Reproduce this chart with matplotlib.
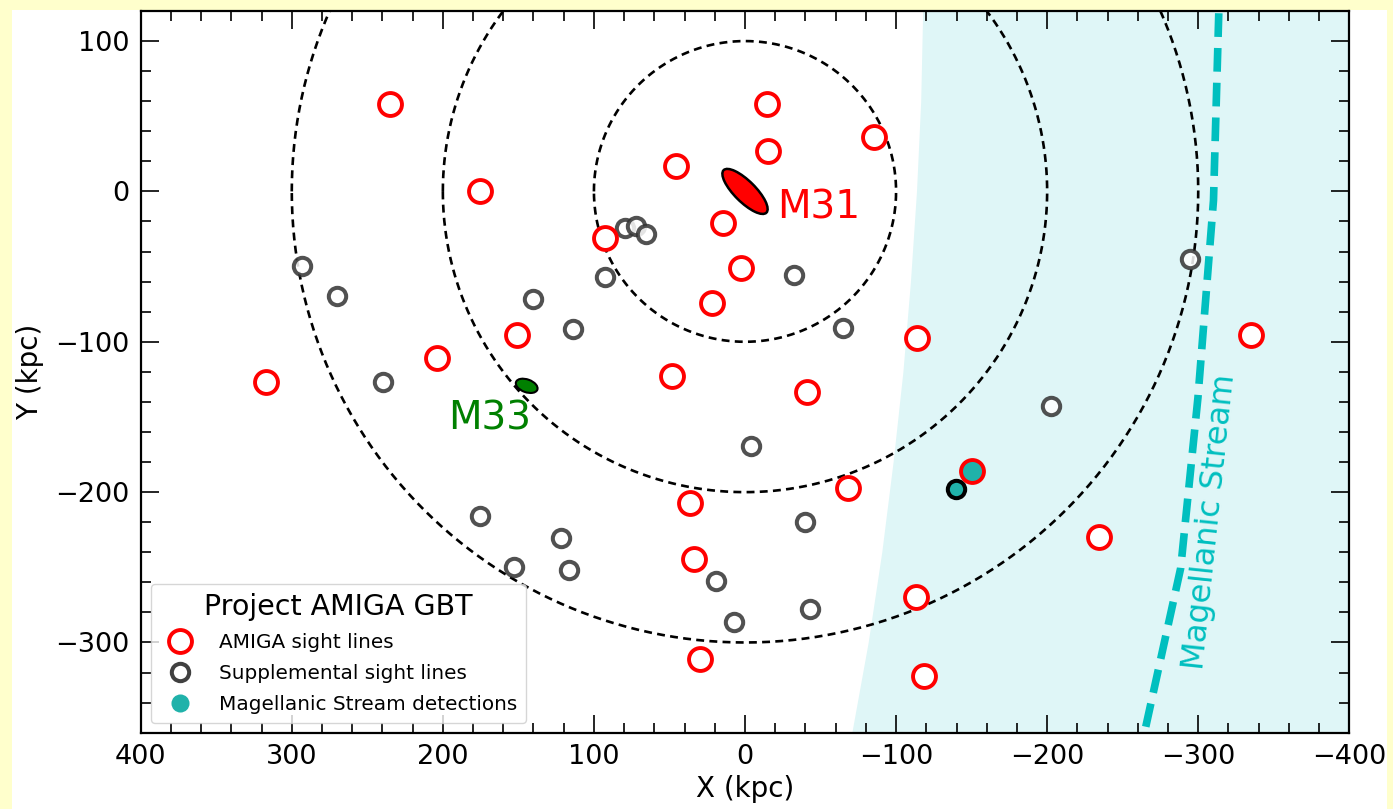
import matplotlib
matplotlib.use("Agg")
import matplotlib.pyplot as plt
from matplotlib.patches import Ellipse, Rectangle
from matplotlib.lines import Line2D
from matplotlib.ticker import MultipleLocator
import numpy as np

# ---------------- data ----------------
amiga_x = [235, 175.4, 92.7, 45.7, -14.6, -15.2, 14.6, 2.6, 21.8, -85.4,
           150.9, 203.8, 317, 48.3, -41, -113.8, 36.4, -68.2, 33.8, 29.8,
           -113.2, -118.5, -234.3, -334.9]
amiga_y = [58, 0, -30.7, 16.7, 58, 26.7, -20.7, -50.7, -74, 36,
           -95.3, -110.7, -126.7, -122.7, -133.3, -97.3, -207.3, -197.3, -244.7, -310.7,
           -270, -322, -230, -95.3]

supp_x = [293.2, 270, 239.6, 140.1, 114, 79.4, 72.1, 65.5, 92.7, -32.4,
          -64.7, -4, -294.8, -202.4, 175.4, 121.8, 152.9, 116.5, 19.2, -39.7,
          7.3, -43]
supp_y = [-49.3, -69.3, -126.7, -71.8, -91.8, -24.5, -23.3, -28.2, -56.7, -55.3,
          -90.9, -169.3, -44.9, -142.7, -216, -230.7, -250, -252, -259.3, -220,
          -286.7, -278]

ms_amiga_x = [-150.0]
ms_amiga_y = [-186.0]
ms_supp_x = [-139.6]
ms_supp_y = [-198.2]

radii = [100, 200, 300]

stream_x = [-313.6, -310.1, -299.8, -288.4, -264.3]
stream_y = [118.5, -6, -137.3, -250.5, -360.5]

region_x = [-117.6, -116.3, -113.5, -109.5, -104.5, -98, -90.5, -81.5, -70.6]
region_y = [120, 60, 0, -60, -120, -180, -240, -300, -360.5]

# ---------------- figure ----------------
W, H = 1393, 809
fig = plt.figure(figsize=(W / 100, H / 100), dpi=100)
fig.patch.set_facecolor("#ffffcc")
fig.patches.append(Rectangle((12 / W, 0), (1387 - 12) / W, (809 - 10) / H,
                             transform=fig.transFigure, facecolor="white",
                             edgecolor="none", zorder=-10))

ax = fig.add_axes([140.7 / W, 1 - 732.7 / H, (1349.3 - 140.7) / W, (732.7 - 11) / H])

ax.set_xlim(400, -400)
ax.set_ylim(-360, 120)

cyan = (0, 0.75, 0.75)
teal = "#20b2aa"

# shaded Magellanic region
ax.fill_betweenx(region_y, region_x, -400, color="#dff6f7", lw=0, zorder=0)

# distance circles
th = np.linspace(0, 2 * np.pi, 721)
for r in radii:
    ax.plot(r * np.cos(th), r * np.sin(th), color="k", lw=1.9,
            ls=(0, (3.0, 2.0)), zorder=1)

# Magellanic stream
ax.plot(stream_x, stream_y, color=cyan, lw=5.5, ls=(0, (3.1, 1.45)), zorder=2)
ax.text(-307.7, -220, "Magellanic Stream", color=cyan, fontsize=23,
        rotation=84, ha="center", va="center", rotation_mode="anchor", zorder=3)

# galaxies
ax.add_patch(Ellipse((0, 0), 40, 14, angle=45, facecolor="red",
                     edgecolor="k", lw=1.8, zorder=4))
ax.text(-21, -10.7, "M31", color="red", fontsize=28, ha="left", va="center", zorder=4)
ax.add_patch(Ellipse((144.5, -129.3), 15, 8.5, angle=20, facecolor="green",
                     edgecolor="k", lw=1.5, zorder=4))
ax.text(168.8, -150.7, "M33", color="green", fontsize=28, ha="center", va="center", zorder=4)

# sight lines
ax.plot(supp_x, supp_y, "o", ms=12.5, mfc="white", mec="0.2", mew=2.9,
        alpha=0.85, ls="none", zorder=5)
ax.plot(amiga_x, amiga_y, "o", ms=16.5, mfc="white", mec="red", mew=2.8,
        ls="none", zorder=6)
ax.plot(ms_supp_x, ms_supp_y, "o", ms=12.5, mfc=teal, mec="k", mew=2.9,
        ls="none", zorder=7)
ax.plot(ms_amiga_x, ms_amiga_y, "o", ms=16.5, mfc=teal, mec="red", mew=2.8,
        ls="none", zorder=7)

# axes styling
ax.xaxis.set_major_locator(MultipleLocator(100))
ax.xaxis.set_minor_locator(MultipleLocator(20))
ax.yaxis.set_major_locator(MultipleLocator(100))
ax.yaxis.set_minor_locator(MultipleLocator(20))
ax.tick_params(which="both", direction="in", top=True, right=True, width=1.2)
ax.tick_params(which="major", length=13, labelsize=19.5, pad=8)
ax.tick_params(which="minor", length=7)
for s in ax.spines.values():
    s.set_linewidth(1.6)

ax.set_xlabel("X (kpc)", fontsize=20, labelpad=4)
ax.set_ylabel("Y (kpc)", fontsize=20, labelpad=8)

handles = [
    Line2D([], [], marker="o", ls="none", ms=16.5, mfc="white", mec="red", mew=2.8),
    Line2D([], [], marker="o", ls="none", ms=12.5, mfc="white", mec="0.25", mew=2.9),
    Line2D([], [], marker="o", ls="none", ms=13, mfc=teal, mec=teal, mew=0),
]
labels = ["AMIGA sight lines", "Supplemental sight lines", "Magellanic Stream detections"]
leg = ax.legend(handles, labels, loc="lower left", title="Project AMIGA GBT",
                fontsize=14.4, title_fontsize=20.5, framealpha=0.8, edgecolor="0.8",
                handletextpad=0.95, labelspacing=0.6, borderpad=0.45)
leg.set_zorder(10)

fig.savefig("out.png", dpi=100, facecolor=fig.get_facecolor())
